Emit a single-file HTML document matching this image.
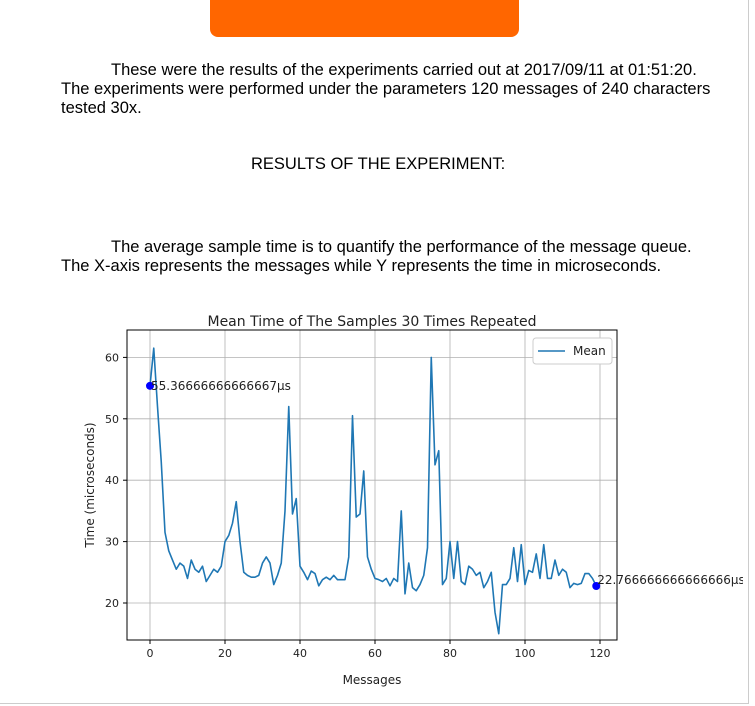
<!DOCTYPE html>
<html><head><meta charset="utf-8"><style>
body{margin:0;width:755px;height:706px;background:#fff;font-family:"Liberation Sans",sans-serif;position:relative;overflow:hidden}
.t{position:absolute;font-size:16.5px;color:#000;white-space:nowrap}
</style></head><body>
<div style="position:absolute;left:210px;top:-10px;width:309px;height:47px;background:#ff6600;border-radius:8px"></div>
<div style="position:absolute;left:748px;top:0;width:1px;height:704px;background:#ccc"></div>
<div style="position:absolute;left:0;top:703px;width:749px;height:1px;background:#ccc"></div>
<div class="t" style="left:111px;top:61px">These were the results of the experiments carried out at 2017/09/11 at 01:51:20.</div>
<div class="t" style="left:61px;top:80px">The experiments were performed under the parameters 120 messages of 240 characters</div>
<div class="t" style="left:61px;top:99px">tested 30x.</div>
<div class="t" style="left:251px;top:155px">RESULTS OF THE EXPERIMENT:</div>
<div class="t" style="left:111px;top:238px">The average sample time is to quantify the performance of the message queue.</div>
<div class="t" style="left:61px;top:257px">The X-axis represents the messages while Y represents the time in microseconds.</div>
<svg id="chart" width="743" height="706" style="position:absolute;left:0;top:0;overflow:hidden" font-family="DejaVu Sans, sans-serif"></svg>
<script>
const values=[55.37,61.5,52,43,31.5,28.5,27,25.5,26.5,26,24,27,25.5,25,26,23.5,24.5,25.5,25,26,30,31,33,36.5,30,25,24.5,24.2,24.2,24.5,26.5,27.5,26.5,23,24.5,26.5,35,52,34.5,37,26,25,23.8,25.2,24.8,22.8,23.8,24.2,23.8,24.5,23.8,23.8,23.8,27.5,50.5,34,34.5,41.5,27.5,25.5,24,23.8,23.5,24,22.8,24,23.5,35,21.5,26.5,22.5,22,23,24.5,29,60,42.5,44.8,23,24,30,24,30,23.5,23,26,25.5,24.5,25,22.5,23.5,25,18.5,15,23,23,24,29,23.5,29.5,23,25.3,25,28,24,29.5,24,24,27,24.5,25.5,25,22.5,23.2,23,23.2,24.8,24.8,24,22.77];
const xTicks=[0,20,40,60,80,100,120];
const yTicks=[20,30,40,50,60];
const firstLabel="55.36666666666667µs";
const lastLabel="22.766666666666666µs";
const L=127,R=617,T=330,B=640;
const X=v=>150+v*3.75;
const Y=v=>603-(v-20)*6.14;
const svg=document.getElementById('chart');
const NS='http://www.w3.org/2000/svg';
function mk(tag,at,txt){const e=document.createElementNS(NS,tag);for(const k in at)e.setAttribute(k,at[k]);if(txt!==undefined)e.textContent=txt;svg.appendChild(e);return e;}
let e;
e=mk('rect',{x:L,y:T,width:R-L,height:B-T,fill:'#fff',stroke:'none'});


xTicks.forEach(t=>{
 e=mk('line',{x1:X(t),x2:X(t),y1:T,y2:B,stroke:'#b0b0b0','stroke-width':0.8});
 
 
 mk('line',{x1:X(t),x2:X(t),y1:B,y2:B+4,stroke:'#000'});
 e=mk('text',{x:X(t),y:B+17,'text-anchor':'middle','font-size':11,fill:'#222'},t);
 
 
});
yTicks.forEach(t=>{
 e=mk('line',{x1:L,x2:R,y1:Y(t),y2:Y(t),stroke:'#b0b0b0','stroke-width':0.8});
 
 
 mk('line',{x1:L-4,x2:L,y1:Y(t),y2:Y(t),stroke:'#000'});
 e=mk('text',{x:L-8,y:Y(t)+4,'text-anchor':'end','font-size':11,fill:'#222'},t);
 
 
});
e=mk('polyline',{points:values.map((v,i)=>X(i)+','+Y(v)).join(' '),fill:'none',stroke:'#1f77b4','stroke-width':1.6,'stroke-linejoin':'round'});


const li=values.length-1;
e=mk('circle',{cx:X(0),cy:Y(values[0]),r:4,fill:'#0000ff'});


e=mk('circle',{cx:X(li),cy:Y(values[li]),r:4,fill:'#0000ff'});


e=mk('text',{x:X(0)+1,y:Y(values[0])+4,'font-size':12,fill:'#222'},firstLabel);


e=mk('text',{x:X(li)+1,y:Y(values[li])-2,'font-size':12,fill:'#222'},lastLabel);


e=mk('rect',{x:L,y:T,width:R-L,height:B-T,fill:'none',stroke:'#000','stroke-width':1});


e=mk('text',{x:372,y:326,'text-anchor':'middle','font-size':14,fill:'#222'},'Mean Time of The Samples 30 Times Repeated');


e=mk('text',{x:372,y:684,'text-anchor':'middle','font-size':12,fill:'#222'},'Messages');


e=mk('text',{x:94,y:485,'text-anchor':'middle','font-size':12,fill:'#222',transform:'rotate(-90 94 485)'},'Time (microseconds)');


e=mk('rect',{x:533,y:338,width:79,height:26,rx:3,fill:'#fff',stroke:'#ccc'});


e=mk('line',{x1:538,x2:565,y1:351,y2:351,stroke:'#1f77b4','stroke-width':1.6});


e=mk('text',{x:573,y:355,'font-size':12,fill:'#222'},'Mean');


</script>
</body></html>
